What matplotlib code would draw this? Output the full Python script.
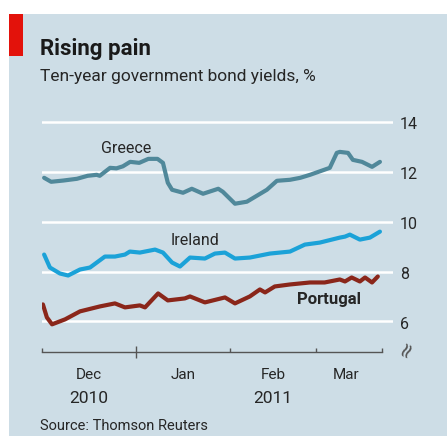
import matplotlib
matplotlib.use("Agg")
import matplotlib.pyplot as plt
from matplotlib.patches import Rectangle
from matplotlib.transforms import blended_transform_factory, ScaledTranslation

# --- Data (days since 1 Dec 2010) ---
greece_days = [0.7, 3, 7, 11.5, 15, 18, 19, 22.4, 24.5, 26.6, 29, 32, 35, 38, 39.8,
               41.4, 42.8, 46.4, 49.3, 53, 58, 59.5, 63.5, 67.4, 70.7, 74, 77.3,
               81.6, 85, 88.2, 94.7, 97, 98, 100.7, 102.3, 105.3, 108.6, 111.2]
greece_vals = [11.76, 11.6, 11.65, 11.72, 11.84, 11.88, 11.84, 12.16, 12.14, 12.22,
               12.4, 12.36, 12.52, 12.52, 12.36, 11.56, 11.28, 11.16, 11.32, 11.12,
               11.32, 11.2, 10.72, 10.8, 11.04, 11.28, 11.64, 11.68, 11.76, 11.88,
               12.16, 12.76, 12.8, 12.76, 12.48, 12.4, 12.2, 12.4]

ireland_days = [0.7, 2.6, 5.9, 8.6, 12.5, 15.8, 20.7, 24, 27.3, 28.9, 32.2, 37.2,
                39.8, 42.8, 45.4, 48.7, 53.6, 56.9, 60.2, 63.5, 68.4, 75, 81.6,
                86.5, 91.4, 98, 99.7, 101.3, 104.6, 107.9, 111.2]
ireland_vals = [8.68, 8.16, 7.92, 7.84, 8.08, 8.16, 8.6, 8.6, 8.68, 8.8, 8.76, 8.88,
                8.76, 8.36, 8.2, 8.56, 8.52, 8.72, 8.76, 8.52, 8.56, 8.72, 8.8,
                9.08, 9.16, 9.36, 9.4, 9.48, 9.28, 9.36, 9.6]

portugal_days = [0.3, 1.6, 3.3, 7.6, 12.5, 19.1, 24, 27.3, 32.2, 33.9, 38.2, 41.4,
                 47, 48.7, 53.6, 60.2, 63.5, 68.4, 71.7, 73.4, 76.6, 81.6, 88.2,
                 93, 98, 99.7, 101.9, 104.6, 106.3, 108.6, 110.5]
portugal_vals = [6.68, 6.16, 5.88, 6.08, 6.4, 6.6, 6.72, 6.56, 6.64, 6.56, 7.12, 6.84,
                 6.92, 7.0, 6.76, 6.96, 6.72, 7.0, 7.28, 7.16, 7.4, 7.48, 7.56,
                 7.56, 7.68, 7.6, 7.76, 7.6, 7.76, 7.56, 7.8]

month_names = ["Dec", "Jan", "Feb", "Mar"]
month_centres = [15.5, 46.5, 76, 100]
year_labels = ["2010", "2011"]
year_centres = [15.5, 76]
y_ticks = [6, 8, 10, 12, 14]

# --- Style ---
BG = "#cddde6"
TXT = "#262626"
FONT = "Roboto"
W, H = 447, 436


def px(x, y):
    return x / W, 1 - y / H


fig = plt.figure(figsize=(W / 100, H / 100), dpi=100)
fig.patch.set_facecolor("white")

# panel and red tag
fig.patches.append(Rectangle(px(9, 436), (W - 9) / W, 422 / H,
                             transform=fig.transFigure, facecolor=BG,
                             edgecolor="none", zorder=-2))
fig.patches.append(Rectangle(px(9, 56), 14 / W, 42 / H,
                             transform=fig.transFigure, facecolor="#e3120b",
                             edgecolor="none", zorder=-1))

ax = fig.add_axes([42 / W, 84 / H, 351 / W, 237.5 / H])
ax.set_facecolor("none")
ax.set_zorder(1)

for yv in y_ticks:
    ax.axhline(yv, color="white", lw=1.8, zorder=1)

line_kw = dict(lw=3.0, zorder=3, solid_joinstyle="round", solid_capstyle="round")
ax.plot(greece_days, greece_vals, color="#50889a", **line_kw)
ax.plot(ireland_days, ireland_vals, color="#1ba2d8", **line_kw)
ax.plot(portugal_days, portugal_vals, color="#8a261a", **line_kw)

ax.set_xlim(0, 115.5)
ax.set_ylim(4.77, 14.3)

for s in ["top", "right", "left"]:
    ax.spines[s].set_visible(False)
ax.spines["bottom"].set_bounds(0, 112)
ax.spines["bottom"].set_color("#555555")
ax.spines["bottom"].set_linewidth(1.0)

ax.yaxis.tick_right()
ax.set_yticks(y_ticks)
ax.set_yticklabels([str(v) for v in y_ticks], fontsize=11.5, color=TXT,
                   family=FONT, va="center")
ax.tick_params(axis="y", length=0, pad=5)
shift = ScaledTranslation(0, -3 / 100, fig.dpi_scale_trans)
for lbl in ax.get_yticklabels():
    lbl.set_transform(lbl.get_transform() + shift)

ax.set_xticks([0, 62, 90, 112])
ax.set_xticks([31], minor=True)
ax.set_xticklabels([])
ax.tick_params(axis="x", which="major", direction="in", length=3,
               color="#555555", width=1)
ax.tick_params(axis="x", which="minor", direction="inout", length=8,
               color="#555555", width=1)

tr = blended_transform_factory(ax.transData, fig.transFigure)
for name, c in zip(month_names, month_centres):
    ax.text(c, 1 - 379 / H, name, transform=tr, ha="center", va="baseline",
            fontsize=11, color=TXT, family=FONT)
for name, c in zip(year_labels, year_centres):
    ax.text(c, 1 - 403 / H, name, transform=tr, ha="center", va="baseline",
            fontsize=12.5, color=TXT, family=FONT)

# series labels
ax.text(19.4, 12.76, "Greece", ha="left", va="baseline", fontsize=11.5,
        color=TXT, family=FONT)
ax.text(42.4, 9.08, "Ireland", ha="left", va="baseline", fontsize=11.5,
        color=TXT, family=FONT)
ax.text(83.9, 6.68, "Portugal", ha="left", va="baseline", fontsize=12,
        color=TXT, family=FONT, fontweight="bold")

# axis break mark
x0, y0 = px(407, 349)
fig.text(x0, y0, "≈", rotation=65, ha="center", va="center", fontsize=15,
         color="#555555", family="DejaVu Sans")

# titles
fig.text(*px(40, 55), "Rising pain", ha="left", va="baseline", fontsize=16,
         fontweight="bold", color="#1a1a1a", family=FONT)
fig.text(*px(40, 81), "Ten-year government bond yields, %", ha="left",
         va="baseline", fontsize=12.5, color=TXT, family=FONT)
fig.text(*px(40, 430), "Source: Thomson Reuters", ha="left", va="baseline",
         fontsize=10.5, color=TXT, family=FONT)

fig.savefig("out.png", dpi=100, facecolor=fig.get_facecolor())
